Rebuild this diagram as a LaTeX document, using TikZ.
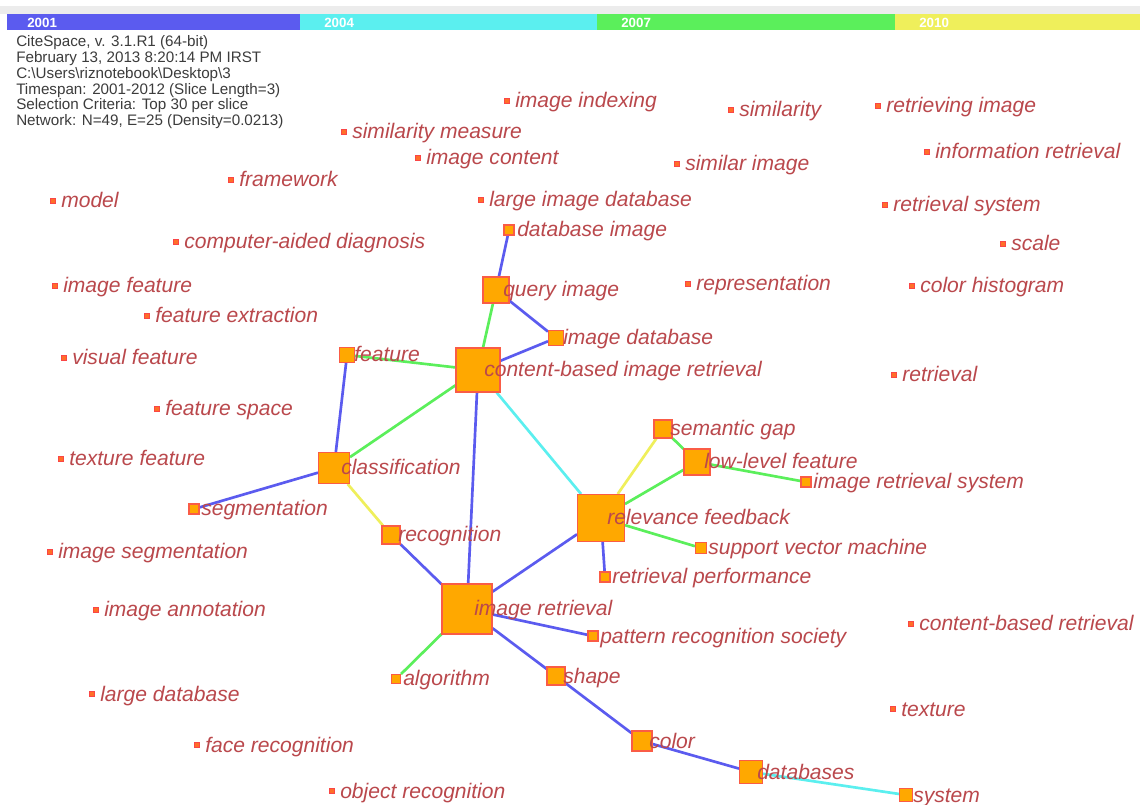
\documentclass[tikz,border=0pt]{standalone}
\usepackage{fontspec}
\setmainfont{Liberation Sans}
\usetikzlibrary{backgrounds}
\definecolor{sliceblue}{RGB}{91,91,239}
\definecolor{slicecyan}{RGB}{91,239,239}
\definecolor{slicegreen}{RGB}{91,239,91}
\definecolor{sliceyellow}{RGB}{239,239,91}
\definecolor{stripgray}{RGB}{236,236,236}
\definecolor{hubfill}{RGB}{255,168,0}
\definecolor{hubedge}{RGB}{250,92,70}
\definecolor{dotfill}{RGB}{255,110,40}
\definecolor{dotedge}{RGB}{250,70,70}
\definecolor{termred}{RGB}{186,72,76}
\definecolor{infogray}{RGB}{60,60,60}
\tikzset{
  hub/.style={rectangle, draw=hubedge, line width=0.8pt, fill=hubfill, inner sep=0pt, minimum size=#1*0.75pt},
  dot/.style={rectangle, draw=dotedge, line width=0.4pt, fill=dotfill, inner sep=0pt, minimum size=3.4pt},
  term/.style={anchor=west, inner sep=0pt, text height=12pt, text depth=1.5pt, text=termred, font=\itshape\fontsize{15.8}{19}\selectfont},
  link/.style={line width=2pt, draw=#1},
  year/.style={anchor=west, inner sep=0pt, text=white, font=\bfseries\fontsize{10}{11}\selectfont},
  info/.style={anchor=base west, inner sep=0pt, text=infogray, font=\fontsize{11.4}{13}\selectfont}
}
\begin{document}
\begin{tikzpicture}[x=0.75pt,y=-0.75pt]
  \useasboundingbox (0,0) rectangle (1140,805);
  % time slices
  \fill[stripgray] (0,6) rectangle (1140,14);
  \fill[sliceblue] (7,14) rectangle (300,30);
  \fill[slicecyan] (300,14) rectangle (597,30);
  \fill[slicegreen] (597,14) rectangle (895,30);
  \fill[sliceyellow] (895,14) rectangle (1140,30);
  \node[year] (y2001) at (27,22.5) {2001};
  \node[year] (y2004) at (324,22.5) {2004};
  \node[year] (y2007) at (621,22.5) {2007};
  \node[year] (y2010) at (919,22.5) {2010};
  % run info
  \node[info] (info1) at (16,46.7) {CiteSpace, v. 3.1.R1 (64-bit)};
  \node[info] (info2) at (16,62.5) {February 13, 2013 8:20:14 PM IRST};
  \node[info] (info3) at (16,78.3) {C:\textbackslash Users\textbackslash riznotebook\textbackslash Desktop\textbackslash 3};
  \node[info] (info4) at (16,94.1) {Timespan: 2001-2012 (Slice Length=3)};
  \node[info] (info5) at (16,109.9) {Selection Criteria: Top 30 per slice};
  \node[info] (info6) at (16,125.7) {Network: N=49, E=25 (Density=0.0213)};
  % isolated terms
  \path (507,101) node[dot] (idx) {} ++(8,0) node[term] (idxL) {image indexing};
  \path (731,110) node[dot] (sim) {} ++(8,0) node[term] (simL) {similarity};
  \path (878,106) node[dot] (rimg) {} ++(8,0) node[term] (rimgL) {retrieving image};
  \path (344,132) node[dot] (simm) {} ++(8,0) node[term] (simmL) {similarity measure};
  \path (927,152) node[dot] (infr) {} ++(8,0) node[term] (infrL) {information retrieval};
  \path (418,158) node[dot] (icont) {} ++(8,0) node[term] (icontL) {image content};
  \path (677,164) node[dot] (simi) {} ++(8,0) node[term] (simiL) {similar image};
  \path (231,180) node[dot] (frame) {} ++(8,0) node[term] (frameL) {framework};
  \path (53,201) node[dot] (model) {} ++(8,0) node[term] (modelL) {model};
  \path (481,200) node[dot] (lidb) {} ++(8,0) node[term] (lidbL) {large image database};
  \path (885,205) node[dot] (rsys) {} ++(8,0) node[term] (rsysL) {retrieval system};
  \path (176,242) node[dot] (cad) {} ++(8,0) node[term] (cadL) {computer-aided diagnosis};
  \path (1003,244) node[dot] (scale) {} ++(8,0) node[term] (scaleL) {scale};
  \path (55,286) node[dot] (ifeat) {} ++(8,0) node[term] (ifeatL) {image feature};
  \path (688,284) node[dot] (repr) {} ++(8,0) node[term] (reprL) {representation};
  \path (912,286) node[dot] (chist) {} ++(8,0) node[term] (chistL) {color histogram};
  \path (147,316) node[dot] (fext) {} ++(8,0) node[term] (fextL) {feature extraction};
  \path (64,358) node[dot] (vfeat) {} ++(8,0) node[term] (vfeatL) {visual feature};
  \path (894,375) node[dot] (retr) {} ++(8,0) node[term] (retrL) {retrieval};
  \path (157,409) node[dot] (fspace) {} ++(8,0) node[term] (fspaceL) {feature space};
  \path (61,459) node[dot] (tfeat) {} ++(8,0) node[term] (tfeatL) {texture feature};
  \path (50,552) node[dot] (iseg) {} ++(8,0) node[term] (isegL) {image segmentation};
  \path (96,610) node[dot] (iann) {} ++(8,0) node[term] (iannL) {image annotation};
  \path (911,624) node[dot] (cbr) {} ++(8,0) node[term] (cbrL) {content-based retrieval};
  \path (92,694) node[dot] (ldb) {} ++(8,0) node[term] (ldbL) {large database};
  \path (893,709) node[dot] (text) {} ++(8,0) node[term] (textL) {texture};
  \path (197,745) node[dot] (face) {} ++(8,0) node[term] (faceL) {face recognition};
  \path (332,791) node[dot] (obj) {} ++(8,0) node[term] (objL) {object recognition};
  % linked terms
  \node[hub=10] (dbimg) at (509,230) {};
  \node[hub=26] (qimg) at (496,290) {};
  \node[hub=15] (imgdb) at (556,338) {};
  \node[hub=15] (feat) at (347,355) {};
  \node[hub=44] (cbir) at (478,370) {};
  \node[hub=31] (classif) at (334,468) {};
  \node[hub=10] (segm) at (194,509) {};
  \node[hub=18] (recog) at (391,535) {};
  \node[hub=50] (imgret) at (467,609) {};
  \node[hub=47] (relfb) at (601,518) {};
  \node[hub=18] (semgap) at (663,429) {};
  \node[hub=26] (lowlev) at (697,462) {};
  \node[hub=10] (irs) at (806,482) {};
  \node[hub=11] (svm) at (701,548) {};
  \node[hub=10] (retperf) at (605,577) {};
  \node[hub=10] (prs) at (593,636) {};
  \node[hub=9] (algo) at (396,679) {};
  \node[hub=18] (shape) at (556,676) {};
  \node[hub=20] (color) at (642,741) {};
  \node[hub=23] (dbs) at (751,772) {};
  \node[hub=13] (system) at (906,795) {};
  % co-occurrence links
  \begin{pgfonlayer}{background}
    \fill[white] (0,0) rectangle (1140,805);
    \draw[link=sliceblue] (dbimg) -- (qimg);
    \draw[link=slicegreen] (qimg) -- (cbir);
    \draw[link=sliceblue] (qimg) -- (imgdb);
    \draw[link=sliceblue] (imgdb) -- (cbir);
    \draw[link=slicegreen] (feat) -- (cbir);
    \draw[link=sliceblue] (feat) -- (classif);
    \draw[link=slicegreen] (cbir) -- (classif);
    \draw[link=sliceblue] (cbir) -- (imgret);
    \draw[link=slicecyan] (cbir) -- (relfb);
    \draw[link=sliceblue] (classif) -- (segm);
    \draw[link=sliceyellow] (classif) -- (recog);
    \draw[link=sliceblue] (recog) -- (imgret);
    \draw[link=sliceblue] (imgret) -- (relfb);
    \draw[link=sliceblue] (imgret) -- (prs);
    \draw[link=slicegreen] (imgret) -- (algo);
    \draw[link=sliceblue] (imgret) -- (shape);
    \draw[link=sliceblue] (shape) -- (color);
    \draw[link=sliceblue] (color) -- (dbs);
    \draw[link=slicecyan] (dbs) -- (system);
    \draw[link=sliceyellow] (relfb) -- (semgap);
    \draw[link=slicegreen] (relfb) -- (lowlev);
    \draw[link=slicegreen] (relfb) -- (svm);
    \draw[link=sliceblue] (relfb) -- (retperf);
    \draw[link=slicegreen] (semgap) -- (lowlev);
    \draw[link=slicegreen] (lowlev) -- (irs);
  \end{pgfonlayer}
  % labels of linked terms
  \node[term] (dbimgL) at (517,230) {database image};
  \node[term] (qimgL) at (503,290) {query image};
  \node[term] (imgdbL) at (563,338) {image database};
  \node[term] (featL) at (354,355) {feature};
  \node[term] (cbirL) at (484,370) {content-based image retrieval};
  \node[term] (classifL) at (341,468) {classification};
  \node[term] (segmL) at (201,509) {segmentation};
  \node[term] (recogL) at (398,535) {recognition};
  \node[term] (imgretL) at (474,609) {image retrieval};
  \node[term] (relfbL) at (607,518) {relevance feedback};
  \node[term] (semgapL) at (670,429) {semantic gap};
  \node[term] (lowlevL) at (704,462) {low-level feature};
  \node[term] (irsL) at (813,482) {image retrieval system};
  \node[term] (svmL) at (708,548) {support vector machine};
  \node[term] (retperfL) at (612,577) {retrieval performance};
  \node[term] (prsL) at (600,636) {pattern recognition society};
  \node[term] (algoL) at (403,679) {algorithm};
  \node[term] (shapeL) at (563,676) {shape};
  \node[term] (colorL) at (649,741) {color};
  \node[term] (dbsL) at (757,772) {databases};
  \node[term] (systemL) at (913,795) {system};
\end{tikzpicture}
\end{document}
